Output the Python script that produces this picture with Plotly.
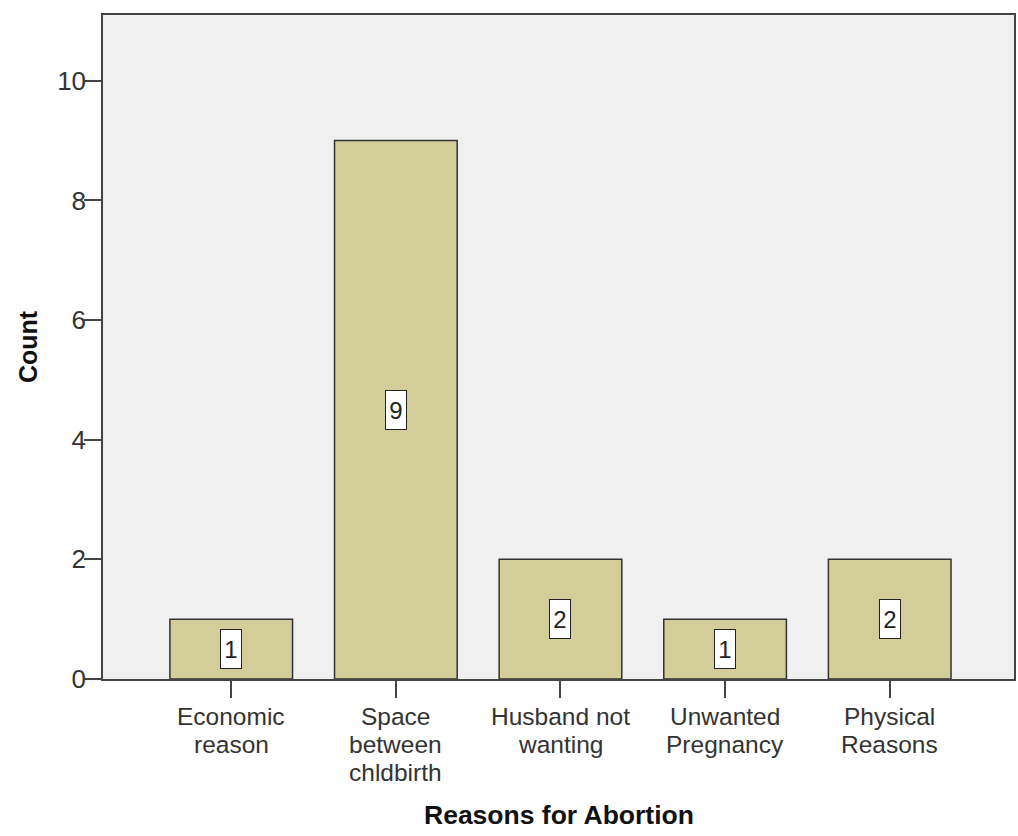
import plotly.graph_objects as go

# Reasons for abortion, counts per category
categories = ["Economic<br>reason", "Space<br>between<br>chldbirth", "Husband not<br>wanting",
              "Unwanted<br>Pregnancy", "Physical<br>Reasons"]
counts = [1, 9, 2, 1, 2]
y_ticks = [0, 2, 4, 6, 8, 10]

FONT = "Liberation Sans, Arial, sans-serif"
TICK_COLOR = "#333333"
positions = list(range(len(categories)))

fig = go.Figure()
fig.add_trace(go.Bar(
    x=positions, y=counts, width=0.745,
    marker=dict(color="#D3CE99", line=dict(color="#333333", width=1.5)),
    hoverinfo="skip",
))

# white value boxes centred on each bar
for xi, v in zip(positions, counts):
    fig.add_annotation(
        x=xi, y=v / 2, xref="x", yref="y", text=str(v), showarrow=False,
        font=dict(family=FONT, size=24, color="#222222"),
        bgcolor="white", bordercolor="#222222", borderwidth=1,
        width=16, height=34, borderpad=2,
    )

# category labels, one annotation per line for tight line spacing
LINE_STEP = 28
FIRST_LINE = 37
for xi, label in zip(positions, categories):
    for k, line in enumerate(label.split("<br>")):
        fig.add_annotation(
            x=xi, y=0, xref="x", yref="y", text=line, showarrow=False,
            xanchor="center", yanchor="middle",
            yshift=-(FIRST_LINE + k * LINE_STEP),
            font=dict(family=FONT, size=24.5, color=TICK_COLOR),
        )

# x-axis title
fig.add_annotation(
    x=0.5, y=0, xref="paper", yref="paper", text="<b>Reasons for Abortion</b>",
    showarrow=False, xanchor="center", yanchor="middle", yshift=-136,
    font=dict(family=FONT, size=26.5, color="#111111"),
)

fig.update_layout(
    width=1018, height=836,
    margin=dict(l=103, r=2, t=15, b=157),
    paper_bgcolor="white", plot_bgcolor="#F0F0F0",
    showlegend=False,
    font=dict(family=FONT, size=26, color=TICK_COLOR),
)
fig.update_xaxes(
    range=[-0.779, 4.755], tickmode="array", tickvals=positions,
    ticktext=[""] * len(positions),
    ticks="outside", ticklen=17, tickcolor="#444444", tickwidth=1.5,
    showline=True, linecolor="#444444", linewidth=1.5, mirror=True,
    showgrid=False, zeroline=False,
)
fig.update_yaxes(
    range=[0, 11.1], tickmode="array", tickvals=y_ticks,
    ticks="outside", ticklen=17, tickcolor="#444444", tickwidth=1.5,
    ticklabelstandoff=-7,
    showline=True, linecolor="#444444", linewidth=1.5, mirror=True,
    showgrid=False, zeroline=False,
    tickfont=dict(family=FONT, size=26, color=TICK_COLOR),
    title=dict(text="<b>Count</b>", font=dict(family=FONT, size=25, color="#111111"), standoff=12),
)

fig.write_html("out.html")
